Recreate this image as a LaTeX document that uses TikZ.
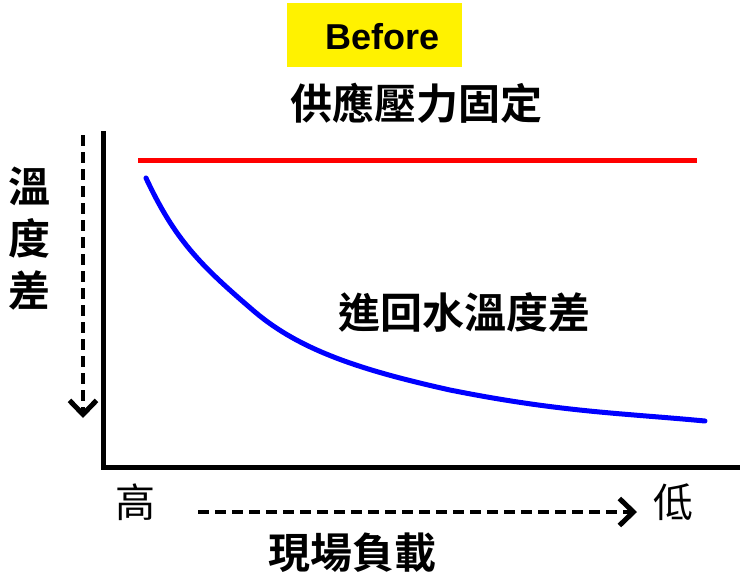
\documentclass[tikz,border=0pt]{standalone}
\usepackage{fontspec}
\setmainfont{Liberation Sans}
\newfontfamily\cjkb{Noto Sans CJK TC Bold}
\newfontfamily\cjk{Noto Sans CJK TC}
\usetikzlibrary{arrows.meta}
\tikzset{
  axisline/.style={line width=5pt, line cap=rect},
  dasharrow/.style={line width=4pt, dash pattern=on 11pt off 6pt, -{Straight Barb[length=14pt,width=27pt,line width=5pt]}},
  bigtxt/.style={font=\fontsize{42}{44}\selectfont\cjkb, inner sep=0pt},
  lighttxt/.style={font=\fontsize{40}{42}\selectfont\cjk, inner sep=0pt}
}
\begin{document}
\begin{tikzpicture}[x=1pt,y=-1pt]
			\useasboundingbox (0,0) rectangle (740,574);
			\fill[yellow] (287,3) rectangle (462,67);
			\node[font=\fontsize{36}{38}\selectfont\bfseries, inner sep=0pt] (before) at (383,37) {Before};
			\node[bigtxt] (supply) at (416,103) {供應壓力固定};
			% axes
			\coordinate (top) at (103,133);
			\coordinate (origin) at (103,467);
			\coordinate (right) at (738,467);
			\draw[axisline] (top)--(origin)--(right);
			\draw[line width=5pt, red] (138,160)--(697,160);
			\draw[line width=5pt, blue, line cap=round] (146,178) .. controls (175,240) and (200,265) .. (255,312)
				.. controls (300,350) and (360,370) .. (450,390)
				.. controls (560,412) and (620,413) .. (705,421);
			\node[bigtxt] (returnwater) at (464,312) {進回水溫度差};
			% y label
			\node[bigtxt] (ylabel1) at (30,186) {溫};
			\node[bigtxt] (ylabel2) at (30,238) {度};
			\node[bigtxt] (ylabel3) at (30,290) {差};
			\coordinate (ya) at (83,135);
			\coordinate (yb) at (83,418);
			\draw[dasharrow] (ya)--(yb);
			% x label
			\node[lighttxt] (high) at (135,502) {高};
			\node[lighttxt] (low) at (673,502) {低};
			\coordinate (xa) at (198,512);
			\coordinate (xb) at (637,512);
			\draw[dasharrow] (xa)--(xb);
			\node[bigtxt] (load) at (352,553) {現場負載};
		\end{tikzpicture}
\end{document}
